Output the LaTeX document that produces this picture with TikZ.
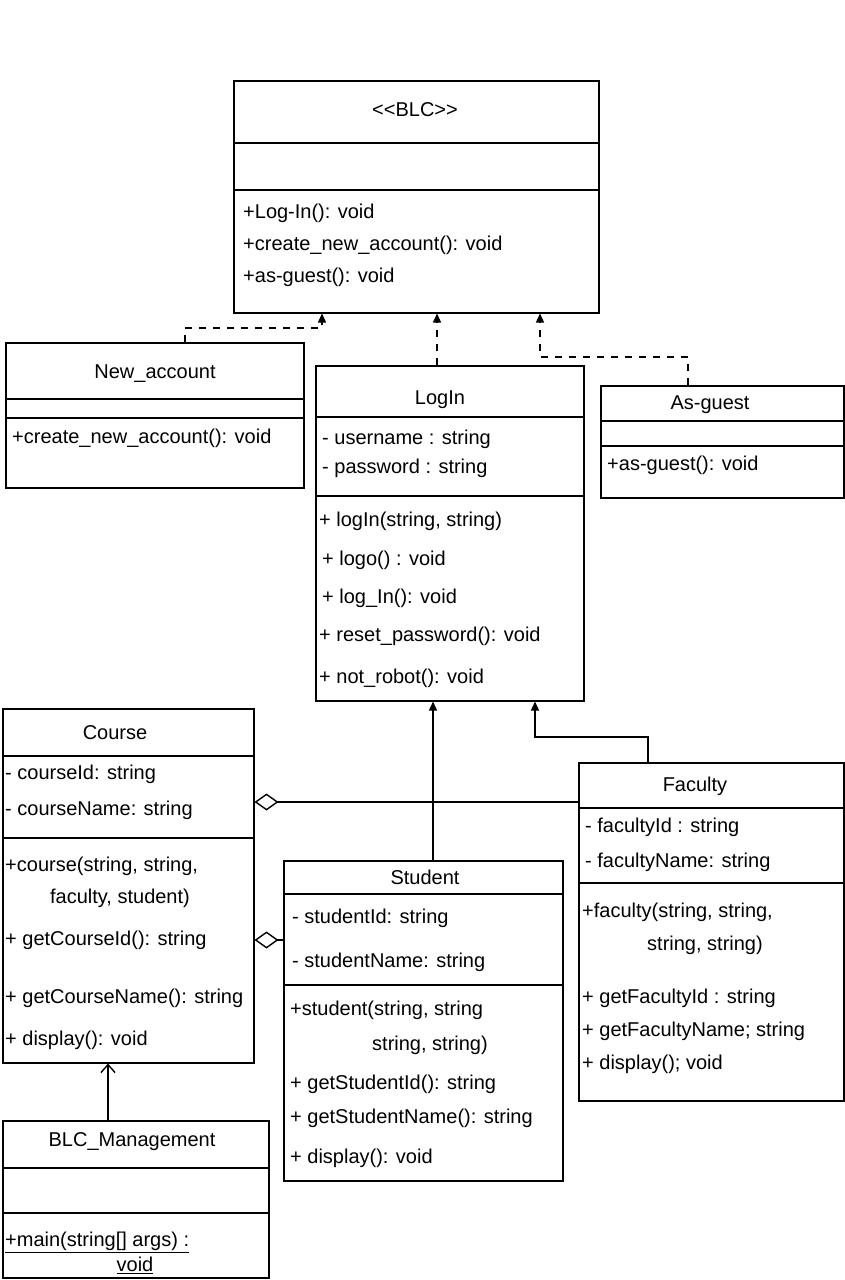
\documentclass[tikz,border=0pt]{standalone}
\usepackage{fontspec}
\setmainfont{Liberation Sans}
\usetikzlibrary{arrows.meta}
\begin{document}
\begin{tikzpicture}[x=1pt,y=-1pt,
  classbox/.style={draw,line width=1.5pt,inner sep=0pt,anchor=north west},
  sepline/.style={line width=1.3pt},
  txt/.style={anchor=west,inner sep=0pt,font=\fontsize{20}{23}\selectfont},
  hdr/.style={inner sep=0pt,font=\fontsize{20}{23}\selectfont},
  realize/.style={line width=1.4pt,dash pattern=on 7pt off 7pt,-{Triangle[length=9pt,width=8pt]}},
  inherit/.style={line width=1.4pt,-{Triangle[length=9pt,width=8pt]}},
  agg/.style={line width=1.4pt,{Diamond[open,length=24pt,width=17pt,line width=1.4pt]}-},
  assoc/.style={line width=1.4pt,-{Straight Barb[length=8pt,width=14pt]}}]
\useasboundingbox[fill=white] (0,0) rectangle (845,1280);

% ---------- BLC ----------
\node[classbox,minimum width=365pt,minimum height=232pt] (blc) at (233,80) {};
\node[hdr] (blcH) at (415,110) {<{}<BLC>{}>};
\draw[sepline] (233,143) -- (598,143);
\draw[sepline] (233,190) -- (598,190);
\node[txt] (blcM1) at (243,213) {+Log-In(): void};
\node[txt] (blcM2) at (243,245) {+create\_new\_account(): void};
\node[txt] (blcM3) at (243,277) {+as-guest(): void};

% ---------- New_account ----------
\node[classbox,minimum width=298pt,minimum height=145pt] (newacc) at (5,342) {};
\node[hdr] (naH) at (155,374) {New\_account};
\draw[sepline] (5,399) -- (303,399);
\draw[sepline] (5,418) -- (303,418);
\node[txt] (naM1) at (12,438) {+create\_new\_account(): void};

% ---------- LogIn ----------
\node[classbox,minimum width=268pt,minimum height=335pt] (login) at (315,365) {};
\node[hdr] (liH) at (440,400) {LogIn};
\draw[sepline] (315,417) -- (583,417);
\node[txt] (liA1) at (322,439) {- username : string};
\node[txt] (liA2) at (322,468) {- password : string};
\draw[sepline] (315,496) -- (583,496);
\node[txt] (liM1) at (319,521) {+ logIn(string, string)};
\node[txt] (liM2) at (322,560) {+ logo() : void};
\node[txt] (liM3) at (322,598) {+ log\_In(): void};
\node[txt] (liM4) at (319,636) {+ reset\_password(): void};
\node[txt] (liM5) at (319,678) {+ not\_robot(): void};

% ---------- As-guest ----------
\node[classbox,minimum width=243pt,minimum height=112pt] (asg) at (600,385) {};
\node[hdr] (agH) at (710,405) {As-guest};
\draw[sepline] (600,421) -- (843,421);
\draw[sepline] (600,446) -- (843,446);
\node[txt] (agM1) at (607,465) {+as-guest(): void};

% ---------- Course ----------
\node[classbox,minimum width=251pt,minimum height=354pt] (course) at (2,708) {};
\node[hdr] (coH) at (115,733) {Course};
\draw[sepline] (2,756) -- (253,756);
\node[txt] (coA1) at (5,774) {- courseId: string};
\node[txt] (coA2) at (5,810) {- courseName: string};
\draw[sepline] (2,838) -- (253,838);
\node[txt] (coM1) at (5,866) {+course(string, string,};
\node[hdr] (coM1b) at (120,898) {faculty, student)};
\node[txt] (coM2) at (5,940) {+ getCourseId(): string};
\node[txt] (coM3) at (5,998) {+ getCourseName(): string};
\node[txt] (coM4) at (5,1040) {+ display(): void};

% ---------- Student ----------
\node[classbox,minimum width=279pt,minimum height=320pt] (student) at (283,860) {};
\node[hdr] (stH) at (425,877) {Student};
\draw[sepline] (283,894) -- (562,894);
\node[txt] (stA1) at (292,918) {- studentId: string};
\node[txt] (stA2) at (292,962) {- studentName: string};
\draw[sepline] (283,985) -- (562,985);
\node[txt] (stM1) at (290,1010) {+student(string, string};
\node[hdr] (stM1b) at (430,1045) {string, string)};
\node[txt] (stM2) at (290,1084) {+ getStudentId(): string};
\node[txt] (stM3) at (290,1118) {+ getStudentName(): string};
\node[txt] (stM4) at (290,1158) {+ display(): void};

% ---------- Faculty ----------
\node[classbox,minimum width=265pt,minimum height=338pt] (faculty) at (578,762) {};
\node[hdr] (faH) at (695,786) {Faculty};
\draw[sepline] (578,808) -- (843,808);
\node[txt] (faA1) at (585,827) {- facultyId : string};
\node[txt] (faA2) at (585,862) {- facultyName: string};
\draw[sepline] (578,883) -- (843,883);
\node[txt] (faM1) at (582,912) {+faculty(string, string,};
\node[hdr] (faM1b) at (705,945) {string, string)};
\node[txt] (faM2) at (582,998) {+ getFacultyId : string};
\node[txt] (faM3) at (582,1031) {+ getFacultyName; string};
\node[txt] (faM4) at (582,1064) {+ display(); void};

% ---------- BLC_Management ----------
\node[classbox,minimum width=266pt,minimum height=157pt] (mgmt) at (2,1120) {};
\node[hdr] (mgH) at (132,1142) {BLC\_Management};
\draw[sepline] (2,1168) -- (268,1168);
\draw[sepline] (2,1213) -- (268,1213);
\node[txt] (mgM1) at (5,1242) {\underline{+main(string[] args) :}};
\node[hdr] (mgM1b) at (135,1265) {\underline{void}};

% ---------- connectors ----------
\coordinate (naK) at (185,328);
\coordinate (naM) at (322,328);
\draw[realize] (newacc.north -| naK) -- (naK) -- (naM) -- (blc.south -| naM);

\coordinate (liK) at (437,340);
\draw[realize] (login.north -| liK) -- (blc.south -| liK);

\coordinate (agK) at (688,357);
\coordinate (agM) at (540,357);
\draw[realize] (asg.north -| agK) -- (agK) -- (agM) -- (blc.south -| agM);

\coordinate (stK) at (433,780);
\draw[inherit] (student.north -| stK) -- (login.south -| stK);

\coordinate (faK) at (648,737);
\coordinate (faM) at (535,737);
\draw[inherit] (faculty.north -| faK) -- (faK) -- (faM) -- (login.south -| faM);

\coordinate (cfK) at (400,802);
\draw[agg] (course.east |- cfK) -- (faculty.west |- cfK);

\coordinate (csK) at (270,940);
\draw[agg] (course.east |- csK) -- (student.west |- csK);

\coordinate (mcK) at (108,1090);
\draw[assoc] (mgmt.north -| mcK) -- (course.south -| mcK);
\end{tikzpicture}
\end{document}
